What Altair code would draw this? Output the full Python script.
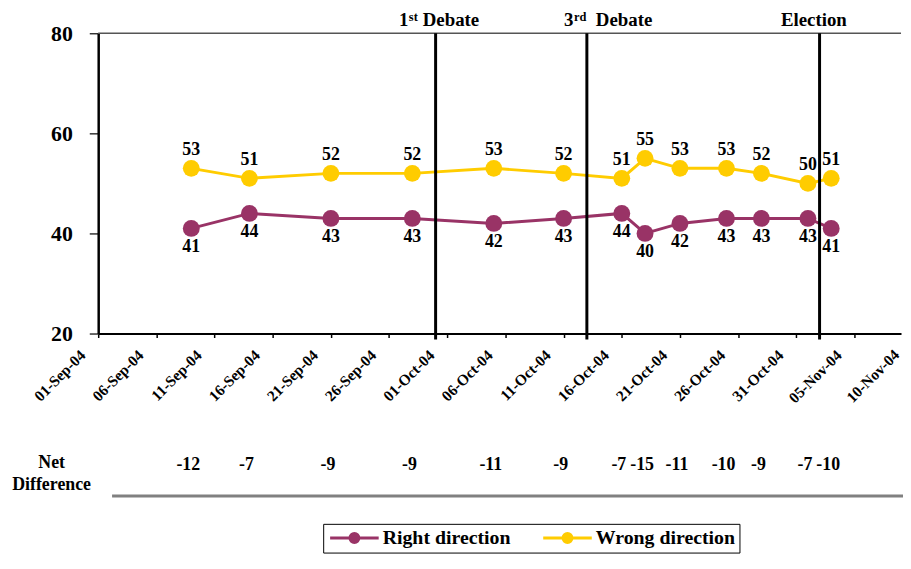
import altair as alt
import pandas as pd

# ---------------- data ----------------
dates = ["2004-09-09", "2004-09-14", "2004-09-21", "2004-09-28", "2004-10-05",
         "2004-10-11", "2004-10-16", "2004-10-18", "2004-10-21", "2004-10-25",
         "2004-10-28", "2004-11-01", "2004-11-03"]
right_direction = [41, 44, 43, 43, 42, 43, 44, 40, 42, 43, 43, 43, 41]
wrong_direction = [53, 51, 52, 52, 53, 52, 51, 55, 53, 53, 52, 50, 51]
net_difference = [-12, -7, -9, -9, -11, -9, -7, -15, -11, -10, -9, -7, -10]

series_names = ["Right direction", "Wrong direction"]
series_colors = ["#993366", "#FFCC00"]

event_dates = ["2004-09-30", "2004-10-13", "2004-11-02"]
event_num = ["1", "3", ""]
event_sup = ["st", "rd", ""]
event_word = ["Debate", "Debate", "Election"]

x_tick_dates = ["2004-09-01", "2004-09-06", "2004-09-11", "2004-09-16", "2004-09-21",
                "2004-09-26", "2004-10-01", "2004-10-06", "2004-10-11", "2004-10-16",
                "2004-10-21", "2004-10-26", "2004-10-31", "2004-11-05", "2004-11-10"]
x_domain = ["2004-09-01", "2004-11-09"]
y_ticks = [20, 40, 60, 80]
net_title = ["Net", "Difference"]

# ---------------- helpers ----------------
FONT = "Liberation Serif"


def dt(s):
    y, m, d = (int(p) for p in s.split("-"))
    return alt.DateTime(year=y, month=m, date=d, utc=True)


def fmt(s):
    return pd.Timestamp(s).strftime("%d-%b-%y")


W, H = 810, 303
XLAB_SIZE = 15.5
XLAB_OFF = -16          # horizontal shift of x tick labels
XLAB_PAD = 15

df = pd.DataFrame({"date": dates, "right": right_direction,
                   "wrong": wrong_direction,
                   "net": [str(v) for v in net_difference]})
long_df = pd.concat([
    pd.DataFrame({"date": dates, "series": series_names[0], "value": right_direction}),
    pd.DataFrame({"date": dates, "series": series_names[1], "value": wrong_direction}),
])

xscale = alt.Scale(type="utc", domain=[dt(x_domain[0]), dt(x_domain[1])])
yscale = alt.Scale(domain=[20, 80])

x_in_axis = [d for d in x_tick_dates if pd.Timestamp(d) <= pd.Timestamp(x_domain[1])]
x_out_axis = [d for d in x_tick_dates if pd.Timestamp(d) > pd.Timestamp(x_domain[1])]

x_axis = alt.Axis(values=[dt(d) for d in x_in_axis],
                  labelExpr="utcFormat(datum.value, '%d-%b-%y')",
                  labelAngle=-45, labelAlign="right", labelBaseline="middle",
                  labelFont=FONT, labelFontSize=XLAB_SIZE, labelFontWeight="bold",
                  labelColor="black",
                  labelOffset=XLAB_OFF, labelPadding=XLAB_PAD, labelOverlap=False,
                  labelFlush=False, labelBound=False,
                  tickSize=4, tickColor="black", tickWidth=1.5,
                  domainColor="black", domainWidth=2, grid=False, title=None)
y_axis = alt.Axis(values=y_ticks, labelFont=FONT, labelFontSize=22, labelFontWeight="bold",
                  labelColor="black", labelPadding=17, tickSize=9, tickColor="#333",
                  tickWidth=1.5, domainColor="black", domainWidth=2.5, grid=False, title=None)


def xenc():
    return alt.X("date:T", scale=xscale, axis=x_axis)


def yenc(field):
    return alt.Y(field + ":Q", scale=yscale, axis=y_axis)


color_scale = alt.Scale(domain=series_names, range=series_colors)

# legend symbol: a line with a solid dot (dot drawn as two stroked rings)
legend_path = ("M-1,0H6"
               "M2.714,0A0.214,0.214,0,1,1,2.286,0A0.214,0.214,0,1,1,2.714,0"
               "M3.143,0A0.643,0.643,0,1,1,1.857,0A0.643,0.643,0,1,1,3.143,0")

legend = alt.Legend(orient="none", legendX=227, legendY=495, direction="horizontal",
                    title=None, strokeColor="black", padding=4,
                    labelFont=FONT, labelFontSize=20, labelFontWeight="bold",
                    labelColor="black", labelOffset=36, columnPadding=26,
                    symbolType=legend_path, symbolSize=196, symbolStrokeWidth=3)

# top rule at 80
top_rule = alt.Chart(pd.DataFrame({"v": [80]})).mark_rule(
    color="#555555", strokeWidth=1.5).encode(y=yenc("v"))

# event lines
ev_df = pd.DataFrame({"date": event_dates})
event_rules = alt.Chart(ev_df).mark_rule(color="black", strokeWidth=3).encode(
    x=xenc(), y=alt.value(0), y2=alt.value(H + 6))

lines = alt.Chart(long_df).mark_line(strokeWidth=3).encode(
    x=xenc(), y=yenc("value"),
    color=alt.Color("series:N", scale=color_scale, legend=legend))
points = alt.Chart(long_df).mark_point(filled=True, size=290, opacity=1).encode(
    x=xenc(), y=yenc("value"),
    color=alt.Color("series:N", scale=color_scale, legend=None))

txt_style = dict(font=FONT, fontSize=18, fontWeight="bold", color="black")

wrong_labels = alt.Chart(df).mark_text(dy=-18, baseline="middle", **txt_style).encode(
    x=xenc(), y=yenc("wrong"), text="wrong:Q")
right_labels = alt.Chart(df).mark_text(dy=19, baseline="middle", **txt_style).encode(
    x=xenc(), y=yenc("right"), text="right:Q")

net_labels = alt.Chart(df).mark_text(dx=-3, baseline="middle", **txt_style).encode(
    x=xenc(), y=alt.value(436), text="net:N")

net_t1 = alt.Chart(pd.DataFrame({"t": [net_title[0]]})).mark_text(
    baseline="middle", align="center", **txt_style).encode(
    x=alt.value(-47), y=alt.value(434), text="t:N")
net_t2 = alt.Chart(pd.DataFrame({"t": [net_title[1]]})).mark_text(
    baseline="middle", align="center", **txt_style).encode(
    x=alt.value(-47), y=alt.value(456), text="t:N")

gray_rule = alt.Chart(pd.DataFrame({"a": [0]})).mark_rule(
    color="#808080", strokeWidth=3).encode(
    x=alt.value(14), x2=alt.value(W + 2), y=alt.value(467))

# event annotations (number, superscript, word) with offsets relative to the line
num_dx = [-37, -23, 0]
sup_dx = [-27, -13, 0]
word_dx = [-13, 9, -39]
ann_layers = []
for i, d in enumerate(event_dates):
    one = pd.DataFrame({"date": [d], "num": [event_num[i]], "sup": [event_sup[i]],
                        "word": [event_word[i]]})
    base = alt.Chart(one)
    if event_num[i]:
        ann_layers.append(base.mark_text(align="left", baseline="alphabetic", dx=num_dx[i],
                                         font=FONT, fontSize=19, fontWeight="bold",
                                         color="black").encode(
            x=xenc(), y=alt.value(-7), text="num:N"))
        ann_layers.append(base.mark_text(align="left", baseline="alphabetic", dx=sup_dx[i],
                                         font=FONT, fontSize=12.5, fontWeight="bold",
                                         color="black").encode(
            x=xenc(), y=alt.value(-12), text="sup:N"))
    ann_layers.append(base.mark_text(align="left", baseline="alphabetic", dx=word_dx[i],
                                     font=FONT, fontSize=19, fontWeight="bold",
                                     color="black").encode(
        x=xenc(), y=alt.value(-7), text="word:N"))

# tick label beyond the visible domain edge (same style as axis labels);
# dx/dy apply in the rotated frame, giving the same horizontal shift as the axis labels
rot = 0.70711
extra_df = pd.DataFrame({"date": x_out_axis, "label": [fmt(d) for d in x_out_axis]})
extra_label = alt.Chart(extra_df).mark_text(
    angle=315, align="right", baseline="middle",
    dx=XLAB_OFF * rot, dy=XLAB_OFF * rot,
    font=FONT, fontSize=XLAB_SIZE, fontWeight="bold", color="black").encode(
    x=xenc(), y=alt.value(H + 4 + XLAB_PAD), text="label:N")

chart = alt.layer(
    lines, top_rule, event_rules, points, wrong_labels, right_labels,
    net_labels, net_t1, net_t2, gray_rule, extra_label, *ann_layers
).properties(
    width=W, height=H,
    autosize=alt.AutoSizeParams(type="none"),
    padding={"left": 91, "top": 23, "right": 2, "bottom": 221},
    background="white",
).configure_view(stroke=None)

chart.save("out.html", embed_options={"renderer": "svg", "actions": False})
